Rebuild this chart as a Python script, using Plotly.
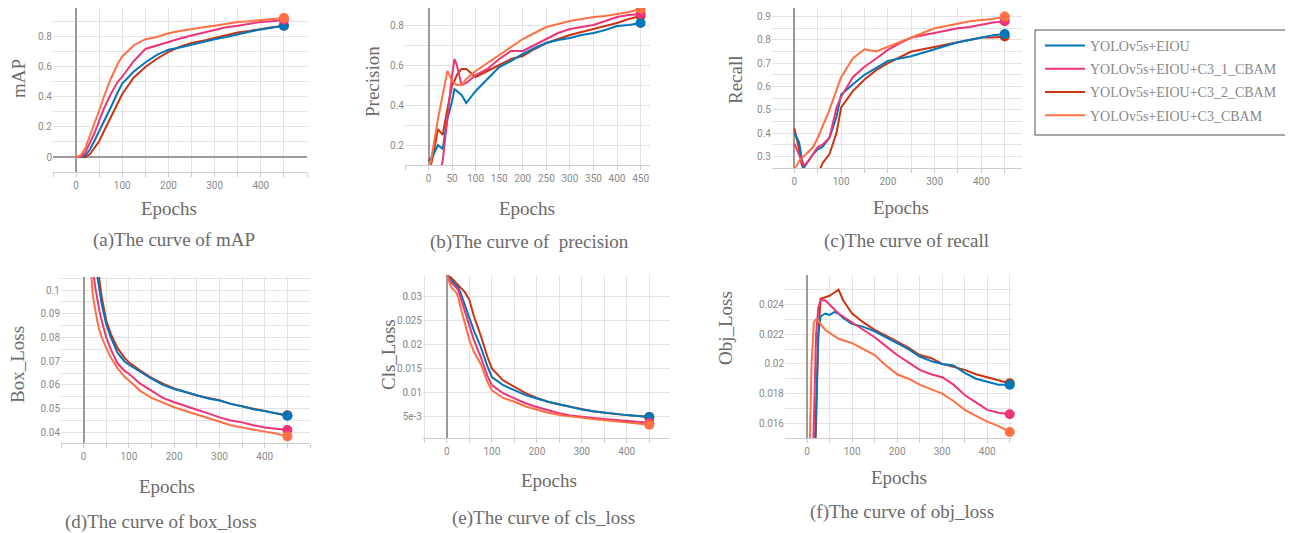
import plotly.graph_objects as go

# page body has an 8px default margin: the figure is placed at (8, 8)
OX, OY = 8, 8
FW, FH = 1285, 525

NAMES = ["YOLOv5s+EIOU", "YOLOv5s+EIOU+C3_1_CBAM", "YOLOv5s+EIOU+C3_2_CBAM", "YOLOv5s+EIOU+C3_CBAM"]
COLORS = ["#0077bb", "#ee3377", "#cc3311", "#ff7043"]

# ---------------- (a) mAP ----------------
MAP_EPOCHS = [0, 10, 20, 30, 40, 50, 60, 75, 90, 100, 125, 150, 175, 200, 225, 250, 275, 300, 325, 350, 375, 400, 425, 450]
MAP_EIOU = [0, 0.0, 0.01, 0.05, 0.11, 0.17, 0.24, 0.33, 0.43, 0.49, 0.57, 0.63, 0.68, 0.715, 0.73, 0.75, 0.77, 0.785, 0.80, 0.82, 0.835, 0.85, 0.86, 0.875]
MAP_C3_1 = [0, 0.0, 0.03, 0.09, 0.16, 0.24, 0.32, 0.42, 0.50, 0.535, 0.64, 0.72, 0.745, 0.77, 0.79, 0.81, 0.83, 0.85, 0.865, 0.875, 0.89, 0.90, 0.905, 0.915]
MAP_C3_2 = [0, 0.0, 0.0, 0.02, 0.06, 0.105, 0.17, 0.26, 0.36, 0.42, 0.53, 0.60, 0.655, 0.70, 0.735, 0.76, 0.775, 0.795, 0.81, 0.83, 0.84, 0.855, 0.865, 0.875]
MAP_C3 = [0, 0.01, 0.06, 0.14, 0.23, 0.31, 0.40, 0.52, 0.62, 0.67, 0.745, 0.785, 0.80, 0.825, 0.84, 0.855, 0.865, 0.875, 0.89, 0.90, 0.905, 0.915, 0.92, 0.927]

# ---------------- (b) precision ----------------
PREC_EPOCHS = [0, 10, 20, 30, 40, 50, 55, 60, 70, 80, 90, 100, 125, 150, 175, 200, 225, 250, 275, 300, 325, 350, 375, 400, 425, 450]
PREC_EIOU = [0.12, 0.15, 0.20, 0.18, 0.33, 0.42, 0.48, 0.47, 0.45, 0.41, 0.44, 0.47, 0.53, 0.59, 0.62, 0.655, 0.685, 0.71, 0.725, 0.735, 0.75, 0.76, 0.775, 0.795, 0.80, 0.81]
PREC_C3_1 = [-0.05, -0.02, 0.02, 0.12, 0.35, 0.55, 0.63, 0.60, 0.50, 0.51, 0.53, 0.55, 0.58, 0.63, 0.67, 0.67, 0.70, 0.73, 0.76, 0.78, 0.79, 0.80, 0.82, 0.84, 0.85, 0.855]
PREC_C3_2 = [0.05, 0.15, 0.28, 0.25, 0.38, 0.50, 0.52, 0.55, 0.58, 0.58, 0.56, 0.54, 0.57, 0.60, 0.63, 0.645, 0.68, 0.71, 0.73, 0.75, 0.765, 0.78, 0.795, 0.81, 0.83, 0.845]
PREC_C3 = [0.05, 0.20, 0.33, 0.45, 0.57, 0.52, 0.51, 0.50, 0.50, 0.53, 0.55, 0.57, 0.61, 0.65, 0.69, 0.73, 0.76, 0.79, 0.805, 0.82, 0.83, 0.84, 0.845, 0.855, 0.865, 0.88]

# ---------------- (c) recall ----------------
REC_EPOCHS = [0, 5, 10, 15, 20, 30, 40, 50, 60, 75, 90, 100, 125, 150, 175, 200, 225, 250, 275, 300, 325, 350, 375, 400, 425, 450]
REC_EIOU = [0.40, 0.38, 0.36, 0.30, 0.25, 0.28, 0.31, 0.33, 0.34, 0.38, 0.47, 0.565, 0.61, 0.65, 0.68, 0.71, 0.72, 0.73, 0.745, 0.76, 0.775, 0.79, 0.80, 0.81, 0.82, 0.825]
REC_C3_1 = [0.355, 0.33, 0.31, 0.28, 0.26, 0.28, 0.31, 0.34, 0.35, 0.38, 0.51, 0.556, 0.64, 0.685, 0.72, 0.757, 0.785, 0.81, 0.82, 0.83, 0.84, 0.85, 0.855, 0.865, 0.875, 0.88]
REC_C3_2 = [0.42, 0.38, 0.33, 0.27, 0.24, 0.21, 0.20, 0.22, 0.27, 0.31, 0.40, 0.51, 0.58, 0.63, 0.67, 0.70, 0.725, 0.75, 0.76, 0.77, 0.78, 0.79, 0.80, 0.81, 0.81, 0.815]
REC_C3 = [0.25, 0.26, 0.28, 0.29, 0.30, 0.32, 0.34, 0.38, 0.43, 0.50, 0.585, 0.64, 0.72, 0.76, 0.75, 0.77, 0.79, 0.81, 0.83, 0.85, 0.86, 0.87, 0.88, 0.885, 0.89, 0.90]

# ---------------- (d) box loss ----------------
BOX_EPOCHS = [0, 10, 20, 25, 30, 35, 40, 50, 60, 75, 90, 100, 125, 150, 175, 200, 225, 250, 275, 300, 325, 350, 375, 400, 425, 450]
BOX_EIOU = [0.20, 0.16, 0.125, 0.114, 0.106, 0.099, 0.094, 0.0855, 0.080, 0.0735, 0.070, 0.0685, 0.0655, 0.0626, 0.060, 0.0583, 0.057, 0.0555, 0.0543, 0.0534, 0.052, 0.051, 0.0497, 0.049, 0.048, 0.047]
BOX_C3_1 = [0.18, 0.14, 0.11, 0.102, 0.096, 0.091, 0.087, 0.080, 0.075, 0.069, 0.066, 0.0647, 0.0605, 0.0575, 0.0545, 0.0527, 0.051, 0.0495, 0.048, 0.0463, 0.045, 0.0442, 0.043, 0.042, 0.0415, 0.041]
BOX_C3_2 = [0.21, 0.17, 0.13, 0.12, 0.111, 0.104, 0.097, 0.087, 0.0815, 0.0755, 0.0715, 0.0695, 0.066, 0.063, 0.0605, 0.0585, 0.057, 0.0555, 0.0545, 0.0535, 0.052, 0.051, 0.0497, 0.0488, 0.048, 0.0472]
BOX_C3 = [0.16, 0.125, 0.098, 0.092, 0.087, 0.083, 0.080, 0.0755, 0.0715, 0.067, 0.0635, 0.0619, 0.0575, 0.0545, 0.0525, 0.0506, 0.049, 0.0475, 0.046, 0.0442, 0.043, 0.042, 0.041, 0.0403, 0.0395, 0.0383]

# ---------------- (e) cls loss ----------------
CLS_EPOCHS = [0, 10, 20, 25, 30, 40, 50, 60, 75, 90, 100, 125, 150, 175, 200, 225, 250, 275, 300, 325, 350, 375, 400, 425, 450]
CLS_EIOU = [0.0345, 0.0335, 0.0325, 0.032, 0.031, 0.0285, 0.0256, 0.023, 0.0196, 0.0155, 0.0132, 0.0115, 0.0104, 0.0094, 0.0087, 0.008, 0.0075, 0.0069, 0.0064, 0.006, 0.0057, 0.0054, 0.0052, 0.0050, 0.0048]
CLS_C3_1 = [0.0345, 0.033, 0.032, 0.0315, 0.030, 0.027, 0.0238, 0.021, 0.0175, 0.0135, 0.0115, 0.0098, 0.0087, 0.0077, 0.0069, 0.0062, 0.0056, 0.0051, 0.0048, 0.0046, 0.0044, 0.0042, 0.0041, 0.0039, 0.0036]
CLS_C3_2 = [0.0345, 0.034, 0.0330, 0.0326, 0.0320, 0.0310, 0.0294, 0.026, 0.022, 0.0175, 0.015, 0.0125, 0.0111, 0.0098, 0.0088, 0.0080, 0.0074, 0.0069, 0.0064, 0.006, 0.0057, 0.0054, 0.0052, 0.0050, 0.0048]
CLS_C3 = [0.0345, 0.032, 0.031, 0.030, 0.028, 0.0245, 0.021, 0.0185, 0.016, 0.0122, 0.0104, 0.0088, 0.008, 0.0070, 0.0063, 0.0057, 0.0052, 0.0049, 0.0046, 0.0043, 0.0041, 0.0039, 0.0037, 0.0035, 0.0032]

# ---------------- (f) obj loss ----------------
OBJ_EPOCHS = [0, 5, 10, 15, 20, 25, 30, 40, 50, 60, 70, 80, 100, 125, 150, 175, 200, 225, 250, 275, 300, 325, 350, 375, 400, 425, 450]
OBJ_EIOU = [0.008, 0.008, 0.009, 0.012, 0.017, 0.022, 0.0232, 0.0234, 0.0233, 0.0235, 0.0234, 0.0231, 0.0227, 0.0225, 0.0222, 0.0218, 0.0214, 0.0210, 0.0205, 0.0202, 0.0200, 0.0199, 0.0194, 0.0190, 0.0188, 0.0186, 0.0186]
OBJ_C3_1 = [0.008, 0.008, 0.010, 0.016, 0.022, 0.0238, 0.0243, 0.0243, 0.0240, 0.0237, 0.0234, 0.0232, 0.0228, 0.0223, 0.0218, 0.0212, 0.0206, 0.0201, 0.0196, 0.0193, 0.0191, 0.0186, 0.0179, 0.0174, 0.0169, 0.0167, 0.0166]
OBJ_C3_2 = [0.008, 0.008, 0.009, 0.011, 0.016, 0.022, 0.0244, 0.0245, 0.0246, 0.0248, 0.0250, 0.0243, 0.0234, 0.0228, 0.0223, 0.0219, 0.0215, 0.0211, 0.0206, 0.0204, 0.0200, 0.0198, 0.0196, 0.0193, 0.0191, 0.0189, 0.0187]
OBJ_C3 = [0.010, 0.013, 0.020, 0.0228, 0.023, 0.0229, 0.0227, 0.0223, 0.0221, 0.0219, 0.0217, 0.0216, 0.0214, 0.0210, 0.0206, 0.0199, 0.0193, 0.0190, 0.0186, 0.0183, 0.0180, 0.0175, 0.0169, 0.0165, 0.0161, 0.0158, 0.0154]

Y_TITLES = ["mAP", "Precision", "Recall", "Box_Loss", "Cls_Loss", "Obj_Loss"]
CAPTIONS = ["(a)The curve of mAP", "(b)The curve of  precision", "(c)The curve of recall",
            "(d)The curve of box_loss", "(e)The curve of cls_loss", "(f)The curve of obj_loss"]

panels = [
    dict(ep=MAP_EPOCHS, s=[MAP_EIOU, MAP_C3_1, MAP_C3_2, MAP_C3],
         box=(53, 307, 8, 172), xr=[-50, 500], yr=[-0.1, 0.993],
         yt=dict(tickvals=[0, 0.2, 0.4, 0.6, 0.8], ticktext=["0", "0.2", "0.4", "0.6", "0.8"]), ygrid=0.1,
         xt=[0, 100, 200, 300, 400], ytitle=(18, 79), etitle=(169, 208), cap=(174, 240)),
    dict(ep=PREC_EPOCHS, s=[PREC_EIOU, PREC_C3_1, PREC_C3_2, PREC_C3],
         box=(405, 650, 8, 165), xr=[-50, 470], yr=[0.1, 0.885],
         yt=dict(tickvals=[0.2, 0.4, 0.6, 0.8], ticktext=["0.2", "0.4", "0.6", "0.8"]), ygrid=0.1,
         xt=[0, 50, 100, 150, 200, 250, 300, 350, 400, 450], ytitle=(372, 82), etitle=(527, 208), cap=(529, 242)),
    dict(ep=REC_EPOCHS, s=[REC_EIOU, REC_C3_1, REC_C3_2, REC_C3],
         box=(772, 1022, 8, 168), xr=[-48, 487], yr=[0.25, 0.937],
         yt=dict(tickvals=[0.3, 0.4, 0.5, 0.6, 0.7, 0.8, 0.9], ticktext=["0.3", "0.4", "0.5", "0.6", "0.7", "0.8", "0.9"]), ygrid=0.05,
         xt=[0, 100, 200, 300, 400], ytitle=(736, 80), etitle=(901, 207), cap=(906, 241)),
    dict(ep=BOX_EPOCHS, s=[BOX_EIOU, BOX_C3_1, BOX_C3_2, BOX_C3],
         box=(61, 310, 277, 443), xr=[-50, 500], yr=[0.0355, 0.1055],
         yt=dict(tickvals=[0.04, 0.05, 0.06, 0.07, 0.08, 0.09, 0.1], ticktext=["0.04", "0.05", "0.06", "0.07", "0.08", "0.09", "0.1"]), ygrid=0.005,
         xt=[0, 100, 200, 300, 400], ytitle=(17, 365), etitle=(167, 486), cap=(161, 522)),
    dict(ep=CLS_EPOCHS, s=[CLS_EIOU, CLS_C3_1, CLS_C3_2, CLS_C3],
         box=(423, 670, 275, 438), xr=[-53, 496], yr=[0.0004, 0.0346],
         yt=dict(tickvals=[0.005, 0.01, 0.015, 0.02, 0.025, 0.03], ticktext=["5e-3", "0.01", "0.015", "0.02", "0.025", "0.03"]), ygrid=0.005,
         xt=[0, 100, 200, 300, 400], ytitle=(388, 355), etitle=(549, 480), cap=(543, 518)),
    dict(ep=OBJ_EPOCHS, s=[OBJ_EIOU, OBJ_C3_1, OBJ_C3_2, OBJ_C3],
         box=(785, 1012, 275, 438), xr=[-49, 455], yr=[0.015, 0.026],
         yt=dict(tickvals=[0.016, 0.018, 0.02, 0.022, 0.024], ticktext=["0.016", "0.018", "0.02", "0.022", "0.024"]), ygrid=0.001,
         xt=[0, 100, 200, 300, 400], ytitle=(725, 328), etitle=(899, 477), cap=(902, 512)),
]


def px(x):
    return min(1.0, max(0.0, (x - OX) / FW))


def py(y):
    return min(1.0, max(0.0, 1 - (y - OY) / FH))


GRID = "#e3e3e3"
TICKFONT = dict(family="Roboto", size=10, color="#8a8a8a")
SERIF = "Liberation Serif"
TXT = "#6a6a6a"

fig = go.Figure()
layout = dict(width=FW, height=FH, margin=dict(l=0, r=0, t=0, b=0),
              paper_bgcolor="white", plot_bgcolor="white", showlegend=True)
annotations = []

draw_order = [2, 0, 1, 3]
for i, p in enumerate(panels):
    n = "" if i == 0 else str(i + 1)
    xa, ya = "x" + n, "y" + n
    l, r, t, b = p["box"]
    layout["xaxis" + n] = dict(
        domain=[px(l), px(r)], anchor=ya, range=p["xr"],
        tickvals=p["xt"], ticktext=[str(v) for v in p["xt"]],
        showgrid=True, gridcolor=GRID, gridwidth=1,
        minor=dict(tick0=0, dtick=50, showgrid=True, gridcolor=GRID, ticks="outside", ticklen=4, tickcolor="#cccccc"),
        ticks="outside", ticklen=4, tickcolor="#cccccc",
        showline=True, linecolor="#cccccc", linewidth=1,
        zeroline=True, zerolinecolor="#9a9a9a", zerolinewidth=1.5,
        tickfont=TICKFONT, fixedrange=True)
    layout["yaxis" + n] = dict(
        domain=[py(b), py(t)], anchor=xa, range=p["yr"],
        tickvals=p["yt"]["tickvals"], ticktext=p["yt"]["ticktext"],
        showgrid=True, gridcolor=GRID, gridwidth=1,
        minor=dict(tick0=0, dtick=p["ygrid"], showgrid=True, gridcolor=GRID),
        ticks="", showline=False,
        zeroline=True, zerolinecolor="#9a9a9a", zerolinewidth=1.5,
        tickfont=TICKFONT, fixedrange=True)
    for k in draw_order:
        fig.add_trace(go.Scatter(
            x=p["ep"], y=p["s"][k], mode="lines", name=NAMES[k],
            line=dict(color=COLORS[k], width=2), xaxis=xa, yaxis=ya,
            legendgroup=NAMES[k], legendrank=k + 1, showlegend=(i == 0)))
    for k in draw_order:
        fig.add_trace(go.Scatter(
            x=[p["ep"][-1]], y=[p["s"][k][-1]], mode="markers", name=NAMES[k],
            marker=dict(color=COLORS[k], size=10), xaxis=xa, yaxis=ya, cliponaxis=False,
            legendgroup=NAMES[k], showlegend=False, hoverinfo="skip"))
    yx, yy = p["ytitle"]
    annotations.append(dict(text=Y_TITLES[i], x=px(yx), y=py(yy), xref="paper", yref="paper",
                            xanchor="center", yanchor="middle", textangle=-90, showarrow=False,
                            font=dict(family=SERIF, size=19, color=TXT)))
    ex, ey = p["etitle"]
    annotations.append(dict(text="Epochs", x=px(ex), y=py(ey), xref="paper", yref="paper",
                            xanchor="center", yanchor="middle", showarrow=False,
                            font=dict(family=SERIF, size=19, color=TXT)))
    cx, cy = p["cap"]
    annotations.append(dict(text=CAPTIONS[i].replace("  ", "&nbsp; "), x=px(cx), y=py(cy), xref="paper", yref="paper",
                            xanchor="center", yanchor="middle", showarrow=False,
                            font=dict(family=SERIF, size=19, color=TXT)))

layout["annotations"] = annotations
layout["legend"] = dict(x=px(1040), y=py(30), xanchor="left", yanchor="top",
                        font=dict(family=SERIF, size=14, color="#888888"),
                        bgcolor="rgba(0,0,0,0)", borderwidth=0, tracegroupgap=2,
                        traceorder="grouped", itemwidth=40)
layout["shapes"] = [dict(type="rect", xref="paper", yref="paper",
                         x0=px(1035), x1=px(1290), y0=py(135), y1=py(30),
                         line=dict(color="#555555", width=1), fillcolor="rgba(0,0,0,0)")]
fig.update_layout(**layout)
fig.write_html("out.html")
